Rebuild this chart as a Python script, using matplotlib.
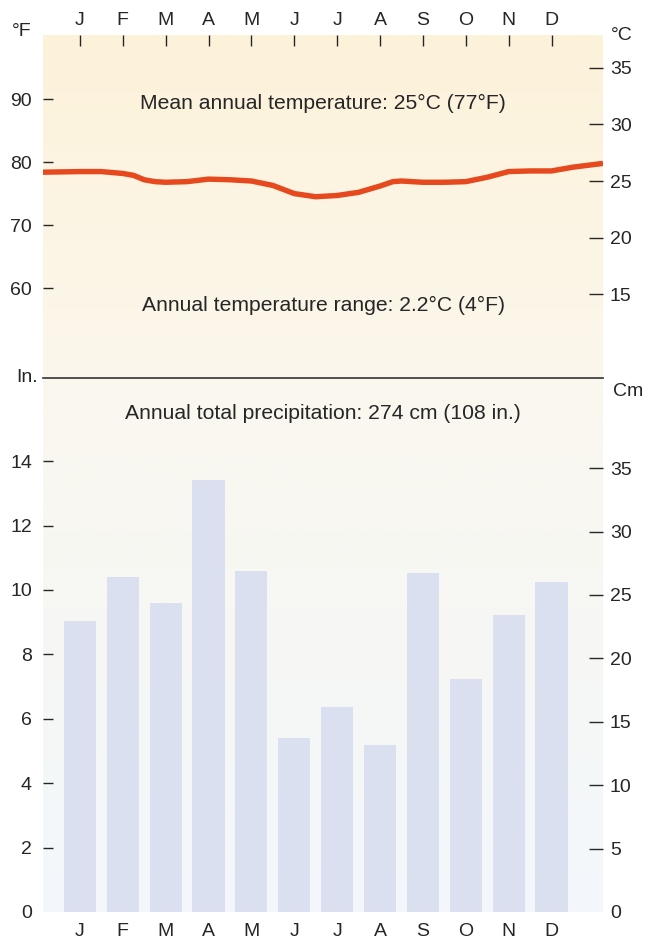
"""
Climograph: monthly temperature (top) and precipitation (bottom) for a humid tropical station.
"""
import numpy as np
import matplotlib.pyplot as plt
from matplotlib.colors import LinearSegmentedColormap

plt.rcParams["font.family"] = ["Liberation Sans", "DejaVu Sans"]
plt.rcParams["text.color"] = "#262626"
plt.rcParams["xtick.color"] = "#262626"
plt.rcParams["ytick.color"] = "#262626"

# ---------------------------------------------------------------------------
# Data
# ---------------------------------------------------------------------------
months = ["J", "F", "M", "A", "M", "J", "J", "A", "S", "O", "N", "D"]

# precipitation per month, inches
precip_in = [9.04, 10.4, 9.6, 13.4, 10.6, 5.4, 6.37, 5.19, 10.53, 7.24, 9.22, 10.25]

# temperature trace, °F, sampled along the year (position in months, 0 = Jan)
temp_t = [-0.86, 0.0, 0.5, 1.0, 1.25, 1.5, 1.75, 2.0, 2.5, 3.0, 3.5, 4.0, 4.5,
          5.0, 5.5, 6.0, 6.5, 7.0, 7.3, 7.5, 8.0, 8.5, 9.0, 9.5, 10.0, 10.5,
          11.0, 11.5, 12.2]
temp_f = [78.4, 78.5, 78.5, 78.2, 77.9, 77.2, 76.9, 76.8, 76.9, 77.3, 77.2, 77.0, 76.3,
          75.0, 74.5, 74.7, 75.2, 76.2, 76.9, 77.0, 76.8, 76.8, 76.9, 77.6, 78.5, 78.6,
          78.6, 79.2, 79.8]

f_ticks = [60, 70, 80, 90]
c_ticks = [15, 20, 25, 30, 35]
in_ticks = [0, 2, 4, 6, 8, 10, 12, 14]
cm_ticks = [0, 5, 10, 15, 20, 25, 30, 35]

mean_label = "Mean annual temperature: 25°C (77°F)"
range_label = "Annual temperature range: 2.2°C (4°F)"
precip_label = "Annual total precipitation: 274 cm (108 in.)"

# ---------------------------------------------------------------------------
# Figure
# ---------------------------------------------------------------------------
W, H = 655, 939
fig = plt.figure(figsize=(W / 100, H / 100), dpi=100)
fig.patch.set_facecolor("white")

def px_box(x0, y0, x1, y1):
    return [x0 / W, 1 - y1 / H, (x1 - x0) / W, (y1 - y0) / H]

ax_t = fig.add_axes(px_box(43, 35, 603, 378))
ax_p = fig.add_axes(px_box(43, 378, 603, 912))

XLIM = (-0.86, 12.2)
x = np.arange(len(months))


def gradient(ax, top, bottom):
    cmap = LinearSegmentedColormap.from_list("bg", [bottom, top])
    grad = np.linspace(0, 1, 256).reshape(-1, 1)
    ax.imshow(grad, cmap=cmap, aspect="auto", origin="lower",
              extent=[0, 1, 0, 1], transform=ax.transAxes, zorder=0)


for ax in (ax_t, ax_p):
    ax.set_xlim(*XLIM)
    for s in ax.spines.values():
        s.set_visible(False)

# --- temperature panel ---
ax_t.set_ylim(45.7, 100.2)
gradient(ax_t, "#fdf2da", "#fbf7ec")
ax_t.plot(temp_t, temp_f, color="#e5491d", lw=3.9, solid_capstyle="butt",
          solid_joinstyle="round", zorder=3)

ax_t.set_yticks(f_ticks)
ax_t.tick_params(axis="y", direction="in", length=7, width=1.0, pad=8, labelsize=14)
ax_t.set_xticks(x)
ax_t.set_xticklabels(months)
ax_t.tick_params(axis="x", direction="in", length=8, width=1.0, pad=4, labelsize=14,
                 top=True, labeltop=True, bottom=False, labelbottom=False)

sec_c = ax_t.secondary_yaxis("right", functions=(lambda f: (f - 32) * 5 / 9,
                                                 lambda c: c * 9 / 5 + 32))
sec_c.set_yticks(c_ticks)
sec_c.tick_params(direction="in", length=10, width=1.0, pad=5, labelsize=14)
sec_c.spines["right"].set_visible(False)

ax_t.text(0.5, 89.4, mean_label, transform=ax_t.get_yaxis_transform(),
          ha="center", va="center", fontsize=15.2)
ax_t.text(0.5, 57.3, range_label, transform=ax_t.get_yaxis_transform(),
          ha="center", va="center", fontsize=15.2)

# --- precipitation panel ---
ax_p.set_ylim(0, 16.58)
gradient(ax_p, "#faf7ee", "#f3f7fc")
ax_p.bar(x, precip_in, width=0.75, color="#dbe0f1", zorder=2)

ax_p.spines["top"].set_visible(True)
ax_p.spines["top"].set_color("#333333")
ax_p.spines["top"].set_linewidth(1.2)

ax_p.set_yticks(in_ticks)
ax_p.tick_params(axis="y", direction="in", length=7, width=1.0, pad=8, labelsize=14)
ax_p.set_xticks(x)
ax_p.set_xticklabels(months)
ax_p.tick_params(axis="x", length=0, pad=8, labelsize=14)
ax_p.yaxis.get_major_ticks()[0].tick1line.set_visible(False)

sec_cm = ax_p.secondary_yaxis("right", functions=(lambda i: i * 2.54,
                                                  lambda c: c / 2.54))
sec_cm.set_yticks(cm_ticks)
sec_cm.tick_params(direction="in", length=10, width=1.0, pad=5, labelsize=14)
sec_cm.spines["right"].set_visible(False)
sec_cm.yaxis.get_major_ticks()[0].tick2line.set_visible(False)

ax_p.text(0.5, 15.47, precip_label, transform=ax_p.get_yaxis_transform(),
          ha="center", va="center", fontsize=15.2)

# unit labels
fig.text(22 / W, 1 - 31 / H, "°F", ha="center", va="center", fontsize=14)
fig.text(622 / W, 1 - 35 / H, "°C", ha="center", va="center", fontsize=14)
fig.text(27 / W, 1 - 377 / H, "In.", ha="center", va="center", fontsize=14)
fig.text(628 / W, 1 - 392 / H, "Cm", ha="center", va="center", fontsize=14)

fig.savefig("out.png", dpi=100)
